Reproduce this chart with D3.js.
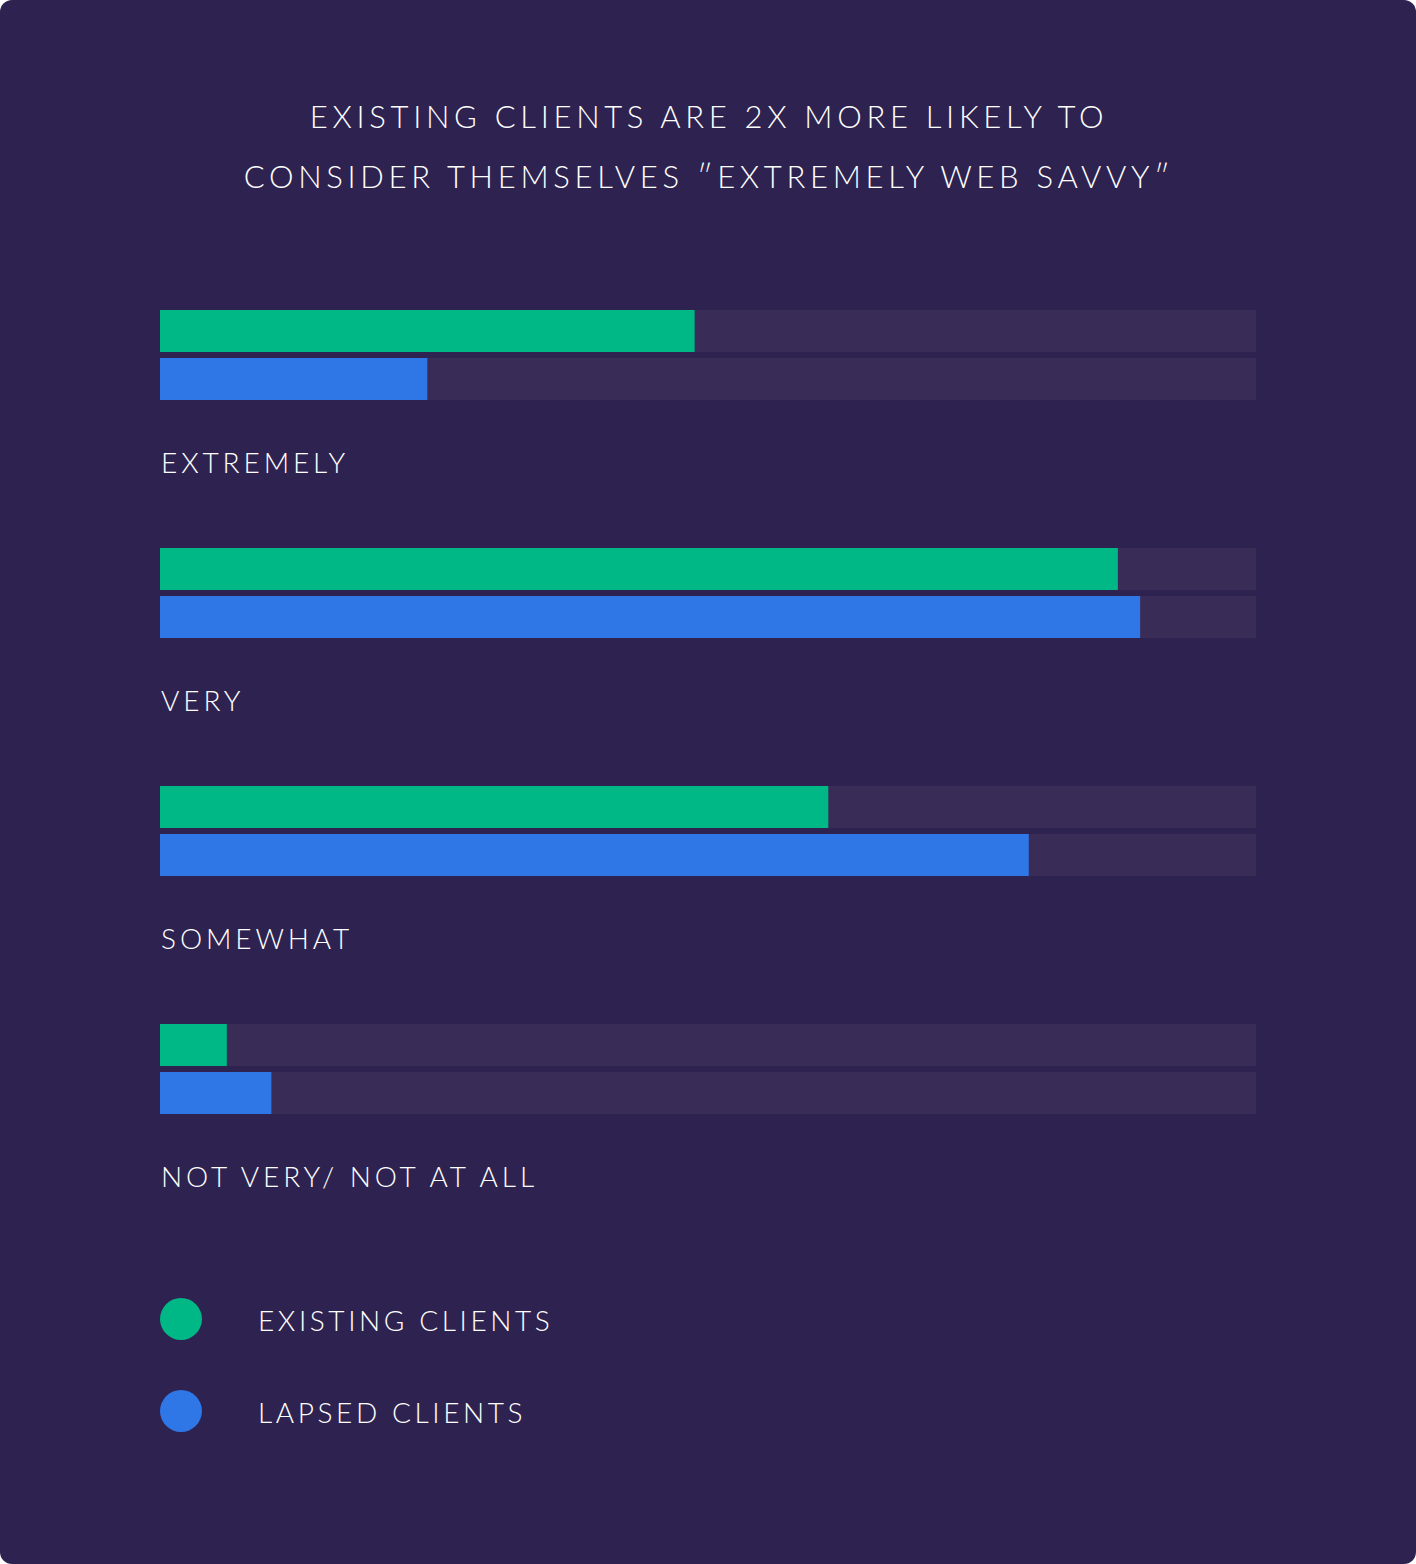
<!DOCTYPE html>
<html lang="en">
<head>
  <meta charset="UTF-8" />
  <title>Web savvy</title>
  <script src="https://d3js.org/d3.v7.min.js"></script>
  <style>
    html, body { margin: 0; padding: 0; background: #ffffff; }
    svg { display: block; }
    text { font-family: "Lato", "Open Sans", sans-serif; font-weight: 300; fill: #ffffff; }
  </style>
</head>
<body>
  <svg width="1416" height="1564"></svg>

  <script>
    const titleLines = [
      "EXISTING CLIENTS ARE 2X MORE LIKELY TO",
      "CONSIDER THEMSELVES \u2033EXTREMELY WEB SAVVY\u2033"
    ];
    const categories = ["EXTREMELY", "VERY", "SOMEWHAT", "NOT VERY/ NOT AT ALL"];
    const series = ["EXISTING CLIENTS", "LAPSED CLIENTS"];
    const existing = [24, 43, 30, 3];
    const lapsed = [12, 44, 39, 5];

    const farben = { "EXISTING CLIENTS": "#00b786", "LAPSED CLIENTS": "#2f76e6" };
    const xMax = 49.2; // full track length

    const svg = d3.select("svg");
    const W = 1416, H = 1564;

    svg.append("rect")
      .attr("width", W).attr("height", H)
      .attr("rx", 12).attr("fill", "#2e2350");

    // title
    svg.append("g").selectAll("text")
      .data(titleLines)
      .enter()
      .append("text")
      .attr("x", 709)
      .attr("y", (d, i) => 128 + i * 60)
      .attr("text-anchor", "middle")
      .attr("font-size", "31px")
      .attr("letter-spacing", "4.7px")
      .text(d => d);

    const x = d3.scaleLinear().domain([0, xMax]).range([160, 1256]);
    const y = d3.scaleBand().domain(categories).range([310, 310 + 238 * 4]);
    const ySub = d3.scaleBand().domain(series).range([0, 90]).paddingInner(0.125);

    const rows = categories.map((c, i) => ({
      cat: c,
      vals: [
        { s: series[0], v: existing[i] },
        { s: series[1], v: lapsed[i] }
      ]
    }));

    const groups = svg.selectAll("g.row")
      .data(rows)
      .enter()
      .append("g")
      .attr("class", "row")
      .attr("transform", d => `translate(0,${y(d.cat)})`);

    // tracks
    groups.selectAll("rect.track")
      .data(d => d.vals)
      .enter()
      .append("rect")
      .attr("class", "track")
      .attr("x", x(0))
      .attr("y", d => ySub(d.s))
      .attr("width", x(xMax) - x(0))
      .attr("height", ySub.bandwidth())
      .attr("fill", "#392d57");

    groups.selectAll("rect.bar")
      .data(d => d.vals)
      .enter()
      .append("rect")
      .attr("class", "bar")
      .attr("x", x(0))
      .attr("y", d => ySub(d.s))
      .attr("width", d => x(d.v) - x(0))
      .attr("height", ySub.bandwidth())
      .attr("fill", d => farben[d.s]);

    groups.append("text")
      .attr("x", 161)
      .attr("y", 163)
      .attr("font-size", "28px")
      .attr("letter-spacing", "3.9px")
      .text(d => d.cat);

    // legend
    const legend = svg.selectAll("g.legend")
      .data(series)
      .enter()
      .append("g")
      .attr("class", "legend")
      .attr("transform", (d, i) => `translate(0,${1319 + i * 92})`);

    legend.append("circle")
      .attr("cx", 181)
      .attr("cy", 0)
      .attr("r", 21)
      .attr("fill", d => farben[d]);

    legend.append("text")
      .attr("x", 258)
      .attr("y", 12)
      .attr("font-size", "28px")
      .attr("letter-spacing", "3.6px")
      .text(d => d);
  </script>
</body>
</html>
